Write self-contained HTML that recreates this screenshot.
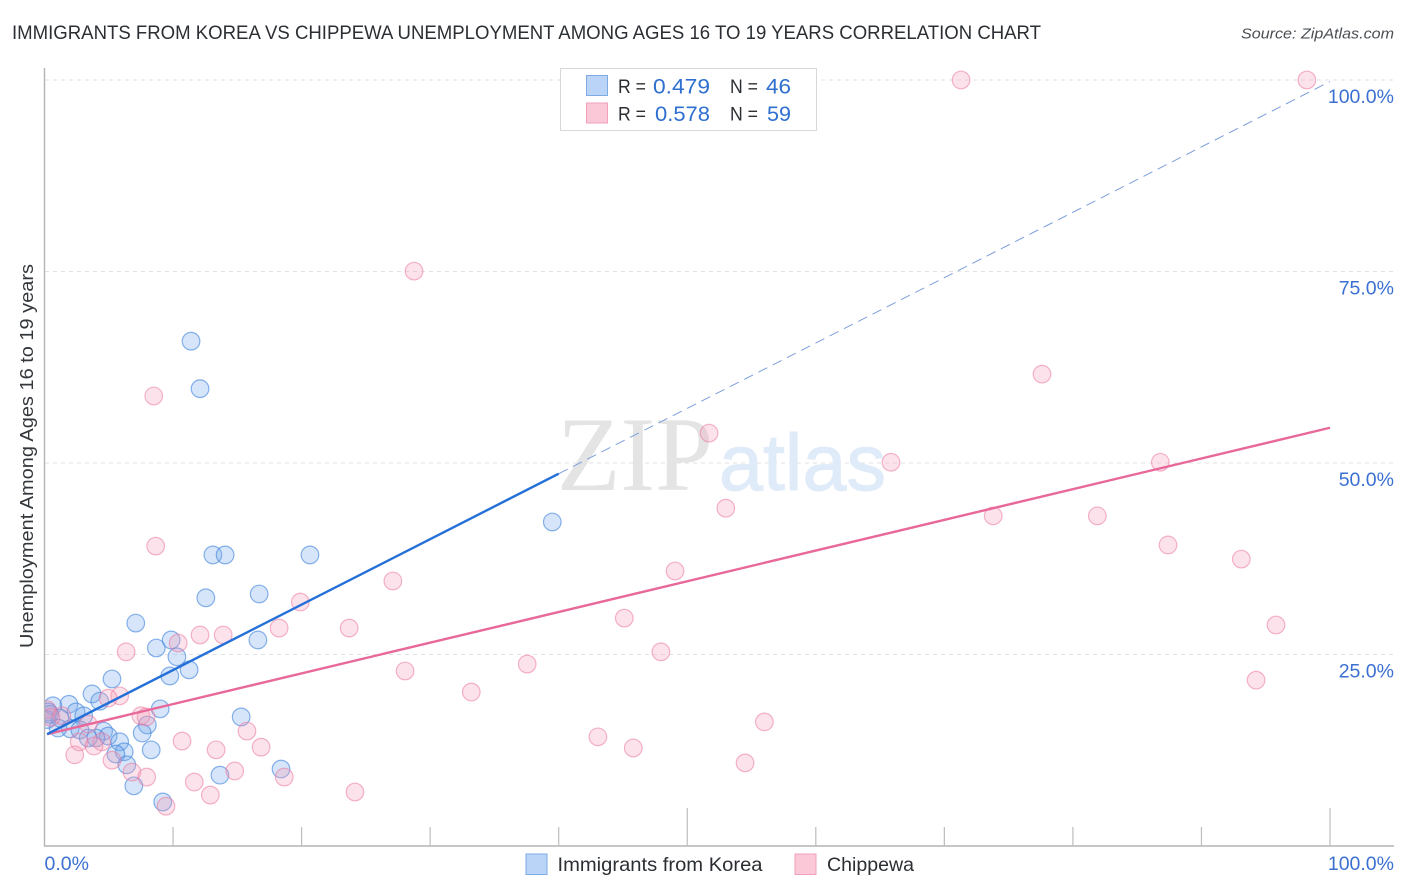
<!DOCTYPE html>
<html lang="en">
<head>
<meta charset="utf-8">
<title>Immigrants from Korea vs Chippewa Unemployment Correlation Chart</title>
<style>
html,body{margin:0;padding:0;background:#fff;width:1406px;height:892px;overflow:hidden}
svg{display:block}
text{font-family:"Liberation Sans",sans-serif}
</style>
</head>
<body>
<svg id="chart" width="1406" height="892" viewBox="0 0 1406 892" xmlns="http://www.w3.org/2000/svg">
  <defs>
    <clipPath id="plot-clip"><rect x="45" y="60" width="1349" height="786"/></clipPath>
  </defs>
  <text x="12" y="39" font-size="19.5" fill="#2b2f33" textLength="1029" lengthAdjust="spacingAndGlyphs">IMMIGRANTS FROM KOREA VS CHIPPEWA UNEMPLOYMENT AMONG AGES 16 TO 19 YEARS CORRELATION CHART</text>
  <text x="1241" y="38.5" font-size="15" font-style="italic" fill="#4a4f55" textLength="153" lengthAdjust="spacingAndGlyphs">Source: ZipAtlas.com</text>

  <g id="grid"></g>

  <g>
    <text x="557" y="490" font-size="106" style="font-family:'Liberation Serif',serif" fill="#e4e4e4" textLength="156" lengthAdjust="spacingAndGlyphs">ZIP</text>
    <text x="719" y="490" font-size="80" fill="#e0ebf9" stroke="#e0ebf9" stroke-width="1" textLength="167" lengthAdjust="spacingAndGlyphs">atlas</text>
  </g>

  <g id="axes">
    <line x1="44.5" y1="68" x2="44.5" y2="846" stroke="#b4b4b4" stroke-width="1.4"/>
    <line x1="44" y1="846" x2="1394" y2="846" stroke="#b4b4b4" stroke-width="1.4"/>
  </g>
  <g id="x-ticks"></g>

  <g id="marks-korea" clip-path="url(#plot-clip)"></g>
  <g id="marks-chippewa" clip-path="url(#plot-clip)"></g>
  <g id="trends"></g>

  <g id="y-labels"></g>
  <g id="x-labels"></g>

  <text transform="translate(33,648) rotate(-90)" x="0" y="0" font-size="18.5" fill="#33373b" textLength="384" lengthAdjust="spacingAndGlyphs">Unemployment Among Ages 16 to 19 years</text>

  <g>
    <rect x="560.5" y="68.5" width="256" height="62" fill="#fff" stroke="#d8d8d8" stroke-width="1"/>
    <rect x="586.5" y="75.5" width="21" height="20" fill="#b9d4f6" stroke="#7eabe4" stroke-width="1"/>
    <rect x="586.5" y="103" width="21" height="20" fill="#fbc8d8" stroke="#f2a0bb" stroke-width="1"/>
    <text x="618" y="93" font-size="19" fill="#2b2f33" textLength="28" lengthAdjust="spacingAndGlyphs">R =</text>
    <text x="653" y="93.5" font-size="21" fill="#2f6fd0" textLength="57" lengthAdjust="spacingAndGlyphs">0.479</text>
    <text x="730" y="93" font-size="19" fill="#2b2f33" textLength="28" lengthAdjust="spacingAndGlyphs">N =</text>
    <text x="766" y="93.5" font-size="21" fill="#2f6fd0" textLength="25" lengthAdjust="spacingAndGlyphs">46</text>
    <text x="618" y="120.5" font-size="19" fill="#2b2f33" textLength="28" lengthAdjust="spacingAndGlyphs">R =</text>
    <text x="655" y="121" font-size="21" fill="#2f6fd0" textLength="55" lengthAdjust="spacingAndGlyphs">0.578</text>
    <text x="730" y="120.5" font-size="19" fill="#2b2f33" textLength="28" lengthAdjust="spacingAndGlyphs">N =</text>
    <text x="767" y="121" font-size="21" fill="#2f6fd0" textLength="24" lengthAdjust="spacingAndGlyphs">59</text>
  </g>

  <g>
    <rect x="526" y="854" width="21" height="20.5" fill="#b9d4f6" stroke="#7eabe4" stroke-width="1"/>
    <text x="557.5" y="871" font-size="19.5" fill="#2b2f33" textLength="205" lengthAdjust="spacingAndGlyphs">Immigrants from Korea</text>
    <rect x="795" y="854" width="21" height="20.5" fill="#fbc8d8" stroke="#f2a0bb" stroke-width="1"/>
    <text x="827" y="871" font-size="19.5" fill="#2b2f33" textLength="87" lengthAdjust="spacingAndGlyphs">Chippewa</text>
  </g>
</svg>
<script>
// Chart data, in percent (46 Korea points, 59 Chippewa points, matching the legend)
const koreaX = [11.4,12.1,39.5,20.65,13.1,14.05,12.55,16.7,7.1,8.7,9.85,16.6,10.3,11.25,9.75,5.25,3.7,4.3,1.9,9.0,15.3,0.65,2.45,3.05,8.0,7.6,4.6,4.95,8.3,5.85,6.2,5.55,6.4,6.95,18.4,13.65,9.2,1.2,2.0,1.05,2.75,4.0,3.4,0.3,0.2,0.4];
const koreaY = [65.9,59.7,42.3,38.0,38.0,38.0,32.4,32.9,29.1,25.85,26.9,26.9,24.7,23.0,22.2,21.8,19.85,18.9,18.5,17.9,16.85,18.3,17.5,17.0,15.8,14.75,15.0,14.35,12.55,13.6,12.3,12.0,10.6,7.85,10.05,9.25,5.75,16.7,15.3,15.4,15.15,14.1,14.1,17.5,16.5,17.2];
const chippewaX = [71.3,98.2,28.75,77.6,8.5,51.7,65.85,86.8,53.0,73.8,81.9,8.65,87.4,93.1,49.05,27.1,19.9,45.1,95.8,12.1,13.9,18.25,23.7,10.4,6.35,47.95,37.55,28.05,5.85,4.95,33.2,94.25,56.0,15.75,7.5,7.9,3.4,10.7,43.05,45.8,13.35,16.85,2.7,4.45,3.85,2.35,5.25,6.8,7.95,11.65,14.8,54.5,18.65,12.9,24.15,9.45,1.35,0.2,0.5];
const chippewaY = [100,100,75.05,61.6,58.75,53.9,50.1,50.1,44.1,43.1,43.1,39.15,39.3,37.45,35.9,34.6,31.85,29.75,28.85,27.55,27.55,28.45,28.45,26.5,25.35,25.35,23.75,22.85,19.6,19.3,20.1,21.65,16.2,15.0,17.0,16.85,15.9,13.7,14.25,12.8,12.55,12.9,13.6,13.6,13.05,11.9,11.2,9.65,9.0,8.35,9.8,10.85,9.0,6.65,7.05,5.2,17.0,17.8,16.8];
const koreaTrendX = [0.2, 40];
const koreaTrendY = [14.6, 48.6];
const koreaDashX = [40, 100];
const koreaDashY = [48.6, 99.8];
const chippewaTrendX = [0.2, 100];
const chippewaTrendY = [14.6, 54.6];
const yTickValues = [25, 50, 75, 100];
const yTickLabels = ["25.0%", "50.0%", "75.0%", "100.0%"];
const xTickValues = [10, 20, 30, 40, 50, 60, 70, 80, 90, 100];
const xMajorTicks = [50, 100];
const xEndValues = [0, 100];
const xEndLabels = ["0.0%", "100.0%"];

const NS = 'http://www.w3.org/2000/svg';
function xScale(v) { return 44.5 + v * 12.855; }
function yScale(v) { return 846 - v * 7.66; }
function el(tag, parent, attrs) {
  const node = document.createElementNS(NS, tag);
  for (const k in attrs) node.setAttribute(k, attrs[k]);
  document.getElementById(parent).appendChild(node);
  return node;
}

yTickValues.forEach(function (v, i) {
  const line = el('line', 'grid', {x1: 45, x2: 1394, y1: yScale(v), y2: yScale(v), stroke: '#e2e2e2', 'stroke-width': 1, 'stroke-dasharray': '4 4'});
  
  
  const label = el('text', 'y-labels', {x: 1394, y: yScale(v) + 23, 'font-size': 19.5, fill: '#3b70d2', 'text-anchor': 'end'});
  
  
  label.textContent = yTickLabels[i];
});

xTickValues.forEach(function (v) {
  const top = xMajorTicks.indexOf(v) >= 0 ? 808 : 827;
  const tick = el('line', 'x-ticks', {x1: xScale(v), x2: xScale(v), y1: top, y2: 846, stroke: '#bdbdbd', 'stroke-width': 1.2});
  
  
});

xEndValues.forEach(function (v, i) {
  const anchor = i === 0 ? 'start' : 'end';
  const px = i === 0 ? 44.5 : 1394;
  const label = el('text', 'x-labels', {x: px, y: 870, 'font-size': 19.5, fill: '#3b70d2', 'text-anchor': anchor});
  
  
  label.textContent = xEndLabels[i];
});

koreaX.forEach(function (v, i) {
  const dot = el('circle', 'marks-korea', {cx: xScale(v), cy: yScale(koreaY[i]), r: 8.8, fill: 'rgba(120,170,235,0.3)', stroke: 'rgba(60,130,220,0.6)', 'stroke-width': 1.2});
  
  
});

chippewaX.forEach(function (v, i) {
  const dot = el('circle', 'marks-chippewa', {cx: xScale(v), cy: yScale(chippewaY[i]), r: 8.8, fill: 'rgba(245,150,180,0.28)', stroke: 'rgba(235,120,160,0.55)', 'stroke-width': 1.2});
  
  
});

const dash = el('line', 'trends', {x1: xScale(koreaDashX[0]), y1: yScale(koreaDashY[0]), x2: xScale(koreaDashX[1]), y2: yScale(koreaDashY[1]), stroke: '#7d9fdc', 'stroke-width': 1, 'stroke-dasharray': '10 6'});


const pinkLine = el('line', 'trends', {x1: xScale(chippewaTrendX[0]), y1: yScale(chippewaTrendY[0]), x2: xScale(chippewaTrendX[1]), y2: yScale(chippewaTrendY[1]), stroke: '#e8689a', 'stroke-width': 2.4});


const blueLine = el('line', 'trends', {x1: xScale(koreaTrendX[0]), y1: yScale(koreaTrendY[0]), x2: xScale(koreaTrendX[1]), y2: yScale(koreaTrendY[1]), stroke: '#2470d8', 'stroke-width': 2.4});


</script>
</body>
</html>
